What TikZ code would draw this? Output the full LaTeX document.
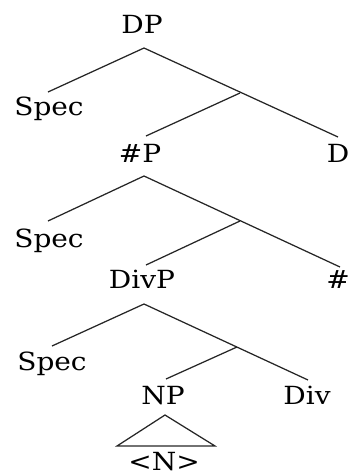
\documentclass[tikz,border=0pt]{standalone}
\usepackage{fontspec}
\setmainfont[FakeStretch=1.12]{DejaVu Serif}
\begin{document}
\begin{tikzpicture}[x=1pt,y=-1pt,
  lbl/.style={anchor=base,inner sep=0pt,font=\fontsize{25}{28}\selectfont},
  branch/.style={draw=black!85,line width=1.25pt}]
\useasboundingbox (0,0) rectangle (349,475);

% labels
\node[lbl] (dp)    at (142,33)  {DP};
\node[lbl] (spec1) at (49,115)  {Spec};
\node[lbl] (np1)   at (140,162) {\#P};
\node[lbl] (d)     at (338,162) {D};
\node[lbl] (spec2) at (49,247)  {Spec};
\node[lbl] (divp)  at (142,288) {DivP};
\node[lbl] (num)   at (338,288) {\#};
\node[lbl] (spec3) at (52,370)  {Spec};
\node[lbl] (np)    at (163,404) {NP};
\node[lbl] (div)   at (307,404) {Div};
\node[lbl] (n)     at (164,470) {<N>};

% branch points
\coordinate (dpA)  at (144,48);
\coordinate (dpL)  at (48,92);
\coordinate (dpM)  at (240,93);
\coordinate (dpR)  at (338,137);
\coordinate (dpC)  at (146,136);

\coordinate (npA)  at (144,176);
\coordinate (npL)  at (48,221);
\coordinate (npM)  at (240,221);
\coordinate (npR)  at (340,267);
\coordinate (npC)  at (146,265);

\coordinate (dvA)  at (144,304);
\coordinate (dvL)  at (52,346);
\coordinate (dvM)  at (237,347);
\coordinate (dvR)  at (308,380);
\coordinate (dvC)  at (166,379);

\coordinate (trA)  at (165,415);
\coordinate (trL)  at (117,446);
\coordinate (trR)  at (215,446);

% DP
\draw[branch] (dpL) -- (dpA) -- (dpR);
\draw[branch] (dpM) -- (dpC);
% #P
\draw[branch] (npL) -- (npA) -- (npR);
\draw[branch] (npM) -- (npC);
% DivP
\draw[branch] (dvL) -- (dvA) -- (dvR);
\draw[branch] (dvM) -- (dvC);
% NP triangle
\draw[branch,line join=miter] (trL) -- (trA) -- (trR) -- cycle;
\end{tikzpicture}
\end{document}
